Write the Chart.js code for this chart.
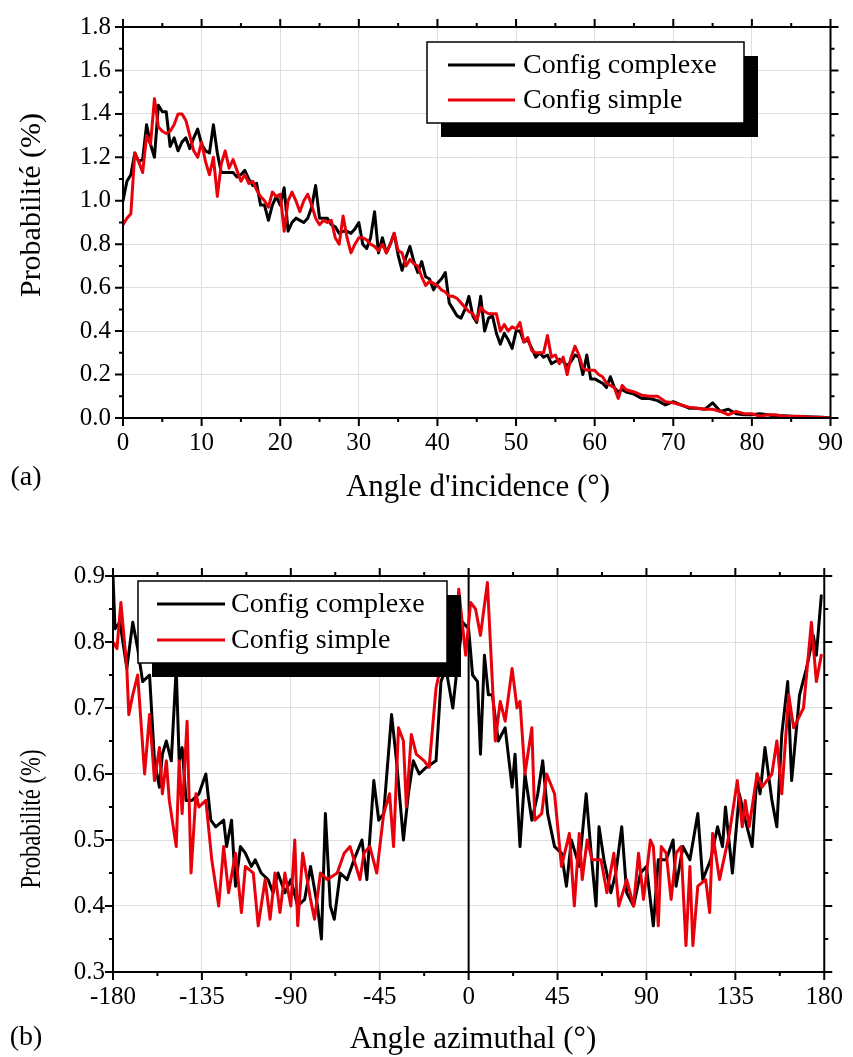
<!DOCTYPE html>
<html>
<head>
<meta charset="utf-8">
<script src="https://cdn.jsdelivr.net/npm/chart.js@4.4.1/dist/chart.umd.min.js"></script>
<style>
    body { margin: 0; background: #fff; width: 853px; height: 1057px; position: relative; overflow: hidden; }
    canvas { position: absolute; left: 0; }
    #incidence_chart { top: 0; }
    #azimuth_chart { top: 530px; }
</style>
</head>
<body>
<canvas id="incidence_chart" width="853" height="530"></canvas>
<canvas id="azimuth_chart" width="853" height="527"></canvas>
<script>
// (a) angle d'incidence : pas de 0.5° jusqu'à 63.5°, puis 1°
let incidence_angles = [
    0,0.5,1,1.5,2,2.5,3,3.5,4,4.5, 5,5.5,6,6.5,7,7.5,8,8.5,9,9.5,
    10,10.5,11,11.5,12,12.5,13,13.5,14,14.5, 15,15.5,16,16.5,17,17.5,18,18.5,19,19.5,
    20,20.5,21,21.5,22,22.5,23,23.5,24,24.5, 25,25.5,26,26.5,27,27.5,28,28.5,29,29.5,
    30,30.5,31,31.5,32,32.5,33,33.5,34,34.5, 35,35.5,36,36.5,37,37.5,38,38.5,39,39.5,
    40,40.5,41,41.5,42,42.5,43,43.5,44,44.5, 45,45.5,46,46.5,47,47.5,48,48.5,49,49.5,
    50,50.5,51,51.5,52,52.5,53,53.5,54,54.5, 55,55.5,56,56.5,57,57.5,58,58.5,59,59.5,
    60,60.5,61,61.5,62,62.5,63,63.5,
    64,65,66,67,68,69,70,71,72,73,74,75,76,77,78,79,80,81,82,83,84,85,86,87,88,89,90
];
let incidence_complexe = [
    1.00,1.09,1.12,1.22,1.18,1.19,1.35,1.26,1.20,1.44, 1.41,1.41,1.25,1.29,1.23,1.27,1.29,1.24,1.29,1.33,
    1.26,1.23,1.22,1.35,1.22,1.13,1.13,1.13,1.13,1.11, 1.12,1.14,1.10,1.07,1.08,0.98,0.98,0.91,0.98,1.02,
    0.98,1.06,0.86,0.90,0.92,0.91,0.90,0.92,0.97,1.07, 0.92,0.92,0.92,0.89,0.88,0.85,0.86,0.86,0.85,0.87,
    0.90,0.80,0.78,0.83,0.95,0.76,0.83,0.76,0.80,0.85, 0.75,0.68,0.74,0.79,0.72,0.67,0.72,0.65,0.64,0.59,
    0.62,0.64,0.67,0.53,0.50,0.47,0.46,0.50,0.56,0.47, 0.44,0.56,0.40,0.46,0.47,0.39,0.34,0.39,0.36,0.32,
    0.40,0.40,0.35,0.36,0.32,0.28,0.30,0.28,0.29,0.25, 0.26,0.27,0.26,0.24,0.26,0.29,0.28,0.20,0.29,0.18,
    0.18,0.17,0.16,0.14,0.19,0.14,0.12,0.13,
    0.12,0.11,0.09,0.09,0.08,0.06,0.075,0.06,0.045,0.045,0.04,0.07,0.03,0.04,0.02,0.015,0.015,0.02,0.015,0.008,0.01,0.008,0.006,0.006,0.005,0.003,0.0
];
let incidence_simple = [
    0.89,0.92,0.94,1.22,1.18,1.13,1.30,1.26,1.47,1.34, 1.32,1.31,1.32,1.35,1.40,1.40,1.37,1.30,1.23,1.20,
    1.27,1.18,1.12,1.20,1.02,1.17,1.23,1.15,1.19,1.14, 1.09,1.12,1.08,1.09,1.05,1.02,1.00,0.97,1.04,1.02,
    1.03,0.86,1.00,1.04,1.00,0.95,1.00,1.03,0.98,0.92, 0.89,0.91,0.90,0.91,0.83,0.80,0.93,0.83,0.76,0.80,
    0.83,0.83,0.82,0.80,0.79,0.77,0.80,0.76,0.80,0.85, 0.77,0.76,0.70,0.73,0.71,0.70,0.65,0.61,0.63,0.62,
    0.61,0.59,0.58,0.56,0.56,0.55,0.53,0.51,0.49,0.48, 0.45,0.51,0.49,0.48,0.48,0.48,0.40,0.43,0.40,0.42,
    0.41,0.44,0.35,0.37,0.31,0.30,0.30,0.30,0.38,0.28, 0.29,0.25,0.28,0.20,0.28,0.33,0.29,0.23,0.22,0.22,
    0.22,0.20,0.19,0.16,0.15,0.14,0.09,0.15,
    0.13,0.12,0.105,0.10,0.10,0.075,0.07,0.06,0.05,0.045,0.04,0.04,0.03,0.015,0.03,0.02,0.02,0.008,0.015,0.015,0.008,0.008,0.008,0.005,0.004,0.002,0.0
];

// (b) angle azimutal : points
let azimuth_complexe_x = [
    -180,-179,-176.5,-173,-170,-167.5,-165,-161.5,-159,-156.5, -155,-153,-150.5,-148,-146.5,-145,-143,-140,-136.5,-133,
    -130.5,-128,-124,-122.5,-120,-118,-115.5,-113,-110,-108, -105,-101.5,-99,-96.5,-93,-90,-86.5,-83,-80,-76.5,
    -74.5,-72.5,-70,-68,-65,-61.5,-58,-54,-51.5,-48, -45.5,-43,-39,-36.5,-33,-30.5,-28,-25,-21.5,-16.5,
    -14,-11.5,-8,-5.5,-3,0,
    2,4.5,6,8,10,12,15,18.5,22,23.5, 26,28.5,32,35,37.5,40,43.5,47,49.5,52,
    56,59.5,62,64.5,66,68.5,72,74.5,77.5,80, 83.5,87,90,93.5,96,100,103.5,105,108.5,112,
    116,118.5,122.5,126,128.5,130,133.5,137,140,143.5, 146,147.5,150,153.5,156,158.5,161.5,163.5,167.5,171,
    174.5,176,178.5
];
let azimuth_complexe = [
    0.90,0.82,0.83,0.76,0.83,0.79,0.74,0.75,0.62,0.58, 0.63,0.65,0.62,0.76,0.62,0.64,0.56,0.56,0.57,0.60,
    0.53,0.52,0.53,0.49,0.53,0.43,0.49,0.48,0.46,0.47, 0.45,0.44,0.42,0.45,0.42,0.44,0.40,0.41,0.46,0.40,
    0.35,0.54,0.40,0.38,0.45,0.44,0.47,0.50,0.44,0.59, 0.53,0.54,0.69,0.62,0.50,0.57,0.62,0.60,0.61,0.62,
    0.74,0.76,0.70,0.77,0.83,0.82,
    0.75,0.74,0.63,0.78,0.72,0.72,0.65,0.67,0.58,0.63, 0.49,0.60,0.53,0.57,0.62,0.54,0.49,0.48,0.43,0.50,
    0.46,0.57,0.48,0.40,0.52,0.47,0.42,0.45,0.52,0.42, 0.40,0.45,0.46,0.37,0.47,0.47,0.50,0.43,0.49,0.47,
    0.54,0.44,0.47,0.52,0.49,0.55,0.45,0.57,0.53,0.49, 0.60,0.57,0.64,0.56,0.52,0.66,0.74,0.59,0.72,0.76,
    0.81,0.78,0.87
];
let azimuth_simple_x = [
    -180,-178,-176,-173,-172,-170,-167.5,-164,-161.5,-159, -156.5,-155,-153,-151.5,-148,-146.5,-145,-142.5,-140.5,-138,
    -136.5,-133,-130,-126.5,-124,-121.5,-118,-115,-113,-109, -106.5,-103,-100.5,-98,-95.5,-93,-90,-88,-86.5,-84,
    -80,-78,-75,-71.5,-66.5,-63,-60,-55,-53,-50, -46.5,-43,-40,-38,-35.5,-33,-31.5,-29,-26.5,-22.5,
    -20,-16.5,-13,-10,-6.5,-5,-1.5,
    1,3.5,6,9.5,13.5,16,18.5,22,24.5,26, 28.5,32,33.5,37,39.5,43.5,47,51,53.5,56,
    57.5,60,62.5,67,70,73.5,76,80,83.5,86, 88.5,92,93.5,96,97.5,100,102.5,105,107.5,110,
    112,113.5,116,120,122,123.5,127,132,136,138.5, 140,142,146,148.5,153.5,156,158.5,162,164.5,169.5,
    173.5,176,178.5
];
let azimuth_simple = [
    0.80,0.79,0.86,0.76,0.69,0.72,0.75,0.60,0.69,0.59, 0.64,0.57,0.62,0.56,0.49,0.62,0.54,0.68,0.45,0.57,
    0.55,0.56,0.47,0.40,0.49,0.42,0.48,0.39,0.46,0.45, 0.37,0.44,0.38,0.45,0.39,0.45,0.40,0.50,0.37,0.48,
    0.41,0.38,0.45,0.44,0.45,0.48,0.49,0.44,0.48,0.49, 0.45,0.54,0.57,0.49,0.67,0.65,0.55,0.66,0.63,0.62,
    0.61,0.73,0.78,0.77,0.80,0.88,0.78,
    0.86,0.85,0.81,0.89,0.65,0.71,0.68,0.76,0.70,0.71, 0.60,0.67,0.53,0.54,0.60,0.57,0.46,0.51,0.40,0.51,
    0.44,0.50,0.47,0.47,0.42,0.48,0.40,0.44,0.40,0.48, 0.41,0.50,0.49,0.37,0.49,0.48,0.41,0.48,0.49,0.34,
    0.46,0.34,0.43,0.44,0.39,0.51,0.44,0.51,0.59,0.52, 0.56,0.52,0.60,0.58,0.60,0.65,0.57,0.72,0.67,0.70,
    0.83,0.74,0.78
];

const SERIF = "'Liberation Serif', 'Times New Roman', serif";
const RED = '#e8000b';

function points(xs, ys) {
    return xs.map((x, i) => ({ x: x, y: ys[i] }));
}

// cadre noir + graduations majeures/mineures sur les 4 côtés (vers l'extérieur)
const frameTicks = {
    id: 'frameTicks',
    afterDraw(chart, args, opts) {
        const { ctx, chartArea: a, scales: { x, y } } = chart;
        ctx.save();
        ctx.strokeStyle = '#000';
        ctx.lineWidth = 2;
        ctx.beginPath();
        const nx = Math.round((x.max - x.min) / opts.xMinor);
        for (let i = 0; i <= nx; i++) {
            const v = x.min + i * opts.xMinor;
            const px = x.getPixelForValue(v);
            const len = Math.abs(v / opts.xMajor - Math.round(v / opts.xMajor)) < 1e-6 ? 8 : 4;
            ctx.moveTo(px, a.bottom); ctx.lineTo(px, a.bottom + len);
            ctx.moveTo(px, a.top); ctx.lineTo(px, a.top - len);
        }
        const ny = Math.round((y.max - y.min) / opts.yMinor);
        for (let i = 0; i <= ny; i++) {
            const v = y.min + i * opts.yMinor;
            const py = y.getPixelForValue(v);
            const len = Math.abs(v / opts.yMajor - Math.round(v / opts.yMajor)) < 1e-6 ? 8 : 4;
            ctx.moveTo(a.left, py); ctx.lineTo(a.left - len, py);
            ctx.moveTo(a.right, py); ctx.lineTo(a.right + len, py);
        }
        ctx.stroke();
        ctx.strokeRect(a.left, a.top, a.right - a.left, a.bottom - a.top);

        // titres d'axes et repère (a)/(b)
        ctx.fillStyle = '#000';
        ctx.textAlign = 'center';
        ctx.textBaseline = 'middle';
        (opts.texts || []).forEach(t => {
            ctx.save();
            ctx.font = t.size + 'px ' + SERIF;
            ctx.translate(t.x, t.y);
            if (t.rotate) ctx.rotate(-Math.PI / 2);
            if (t.squeeze) ctx.scale(t.squeeze, 1);
            ctx.fillText(t.text, 0, 0);
            ctx.restore();
        });
        ctx.restore();
    }
};

// légende style Origin : cadre blanc avec ombre noire
const shadowLegend = {
    id: 'shadowLegend',
    afterDatasetsDraw(chart, args, opts) {
        const ctx = chart.ctx;
        const b = opts.box;
        ctx.save();
        ctx.fillStyle = '#000';
        ctx.fillRect(b.x + opts.shadow, b.y + opts.shadow, b.w, b.h);
        ctx.fillStyle = '#fff';
        ctx.fillRect(b.x, b.y, b.w, b.h);
        ctx.strokeStyle = '#000';
        ctx.lineWidth = 1.5;
        ctx.strokeRect(b.x, b.y, b.w, b.h);
        ctx.font = opts.size + 'px ' + SERIF;
        ctx.textBaseline = 'middle';
        ctx.textAlign = 'left';
        opts.items.forEach((it, i) => {
            const yy = opts.rows[i];
            ctx.strokeStyle = it.color;
            ctx.lineWidth = 3;
            ctx.beginPath();
            ctx.moveTo(opts.lineX[0], yy);
            ctx.lineTo(opts.lineX[1], yy);
            ctx.stroke();
            ctx.fillStyle = '#000';
            ctx.fillText(it.label, opts.textX, yy + 1);
        });
        ctx.restore();
    }
};

function createChart(canvas, cfg) {
    return new Chart(canvas, {
        type: 'line',
        data: {
            datasets: cfg.datasets
        },
        options: {
            responsive: false,
            animation: false,
            layout: { padding: cfg.padding },
            elements: {
                point: { radius: 0 },
                line: { tension: 0, borderJoinStyle: 'round', borderCapStyle: 'round' }
            },
            plugins: {
                legend: { display: false },
                tooltip: { enabled: false },
                frameTicks: cfg.frame,
                shadowLegend: cfg.legend
            },
            scales: {
                x: {
                    type: 'linear',
                    min: cfg.xMin, max: cfg.xMax,
                    afterFit: s => { s.height = cfg.xHeight; },
                    border: { display: false },
                    grid: { color: '#dedede', lineWidth: 1, drawTicks: false },
                    ticks: {
                        stepSize: cfg.frame.xMajor, autoSkip: false, maxRotation: 0,
                        padding: 10, color: '#000',
                        font: { family: SERIF, size: cfg.tickSize }
                    }
                },
                y: {
                    min: cfg.yMin, max: cfg.yMax,
                    afterFit: s => { s.width = cfg.yWidth; },
                    border: { display: false },
                    grid: { color: '#dedede', lineWidth: 1, drawTicks: false },
                    ticks: {
                        stepSize: cfg.frame.yMajor, padding: cfg.yPad, color: '#000',
                        font: { family: SERIF, size: cfg.tickSize },
                        callback: v => v.toFixed(1)
                    }
                }
            }
        },
        plugins: [frameTicks, shadowLegend]
    });
}

createChart(document.getElementById('incidence_chart'), {
    datasets: [
        { label: 'Config simple', data: points(incidence_angles, incidence_simple), borderColor: RED, borderWidth: 3, order: 1 },
        { label: 'Config complexe', data: points(incidence_angles, incidence_complexe), borderColor: '#000', borderWidth: 3, order: 2 }
    ],
    padding: { top: 18, right: 21, left: 0, bottom: 0 },
    xMin: 0, xMax: 90, yMin: 0, yMax: 1.8,
    xHeight: 112, yWidth: 123, yPad: 12, tickSize: 25,
    frame: {
        xMajor: 10, xMinor: 5, yMajor: 0.2, yMinor: 0.1,
        texts: [
            { text: 'Probabilité (%)', x: 32, y: 205, rotate: true, size: 30 },
            { text: "Angle d'incidence (°)", x: 478, y: 488, size: 31 },
            { text: '(a)', x: 26, y: 478, size: 28 }
        ]
    },
    legend: {
        box: { x: 427, y: 42, w: 317, h: 81 }, shadow: 14, size: 28,
        lineX: [448, 515], textX: 523, rows: [65, 100],
        items: [{ label: 'Config complexe', color: '#000' }, { label: 'Config simple', color: RED }]
    }
});

createChart(document.getElementById('azimuth_chart'), {
    datasets: [
        { label: 'Config simple', data: points(azimuth_simple_x, azimuth_simple), borderColor: RED, borderWidth: 3, order: 1 },
        { label: 'Config complexe', data: points(azimuth_complexe_x, azimuth_complexe), borderColor: '#000', borderWidth: 3, order: 2 },
        { label: '', data: [{ x: 0, y: 0.3 }, { x: 0, y: 0.9 }], borderColor: '#000', borderWidth: 2, order: 3 }
    ],
    padding: { top: 46, right: 20, left: 0, bottom: 0 },
    xMin: -180, xMax: 180, yMin: 0.3, yMax: 0.9,
    xHeight: 85, yWidth: 113, yPad: 8, tickSize: 25,
    frame: {
        xMajor: 45, xMinor: 22.5, yMajor: 0.1, yMinor: 0.05,
        texts: [
            { text: 'Probabilité (%)', x: 32, y: 289, rotate: true, size: 29, squeeze: 0.78 },
            { text: 'Angle azimuthal (°)', x: 473, y: 510, size: 31 },
            { text: '(b)', x: 26, y: 508, size: 28 }
        ]
    },
    legend: {
        box: { x: 138, y: 51, w: 309, h: 82 }, shadow: 14, size: 28,
        lineX: [157, 225], textX: 231, rows: [74, 110],
        items: [{ label: 'Config complexe', color: '#000' }, { label: 'Config simple', color: RED }]
    }
});
</script>
</body>
</html>
